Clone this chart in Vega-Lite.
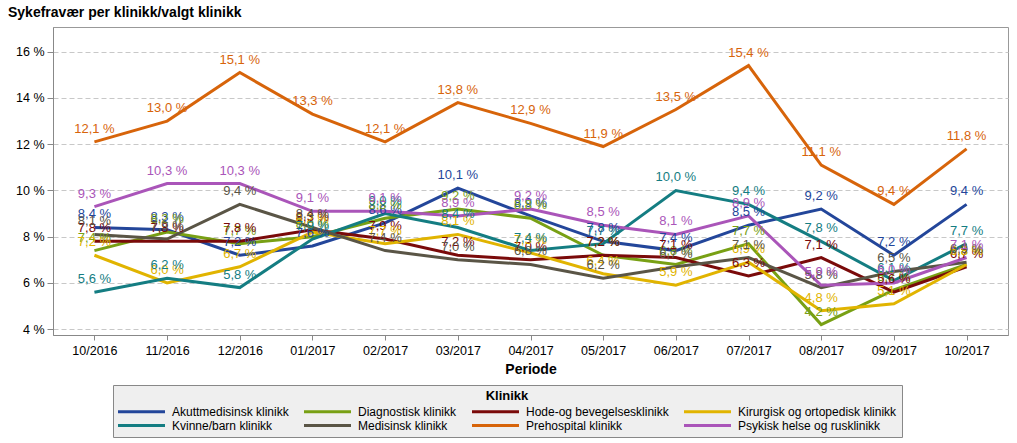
{
  "$schema": "https://vega.github.io/schema/vega-lite/v6.json",
  "width": 955,
  "height": 308,
  "autosize": {"type": "none"},
  "padding": {"left": 53, "top": 27, "right": 9, "bottom": 108},
  "background": "white",
  "title": {"text": "Sykefravær per klinikk/valgt klinikk", "anchor": "start", "frame": "group", "dx": -45, "offset": 7, "fontSize": 14, "font": "Liberation Sans", "fontWeight": "bold", "color": "#000"},
  "data": {"values": [
    {"Periode": "10/2016", "Klinikk": "Akuttmedisinsk klinikk", "Verdi": 8.4},
    {"Periode": "11/2016", "Klinikk": "Akuttmedisinsk klinikk", "Verdi": 8.3},
    {"Periode": "12/2016", "Klinikk": "Akuttmedisinsk klinikk", "Verdi": 7.2},
    {"Periode": "01/2017", "Klinikk": "Akuttmedisinsk klinikk", "Verdi": 7.6},
    {"Periode": "02/2017", "Klinikk": "Akuttmedisinsk klinikk", "Verdi": 8.6},
    {"Periode": "03/2017", "Klinikk": "Akuttmedisinsk klinikk", "Verdi": 10.1},
    {"Periode": "04/2017", "Klinikk": "Akuttmedisinsk klinikk", "Verdi": 8.9},
    {"Periode": "05/2017", "Klinikk": "Akuttmedisinsk klinikk", "Verdi": 7.8},
    {"Periode": "06/2017", "Klinikk": "Akuttmedisinsk klinikk", "Verdi": 7.4},
    {"Periode": "07/2017", "Klinikk": "Akuttmedisinsk klinikk", "Verdi": 8.5},
    {"Periode": "08/2017", "Klinikk": "Akuttmedisinsk klinikk", "Verdi": 9.2},
    {"Periode": "09/2017", "Klinikk": "Akuttmedisinsk klinikk", "Verdi": 7.2},
    {"Periode": "10/2017", "Klinikk": "Akuttmedisinsk klinikk", "Verdi": 9.4},
    {"Periode": "10/2016", "Klinikk": "Diagnostisk klinikk", "Verdi": 7.4},
    {"Periode": "11/2016", "Klinikk": "Diagnostisk klinikk", "Verdi": 8.2},
    {"Periode": "12/2016", "Klinikk": "Diagnostisk klinikk", "Verdi": 7.7},
    {"Periode": "01/2017", "Klinikk": "Diagnostisk klinikk", "Verdi": 8.0},
    {"Periode": "02/2017", "Klinikk": "Diagnostisk klinikk", "Verdi": 8.8},
    {"Periode": "03/2017", "Klinikk": "Diagnostisk klinikk", "Verdi": 9.2},
    {"Periode": "04/2017", "Klinikk": "Diagnostisk klinikk", "Verdi": 8.8},
    {"Periode": "05/2017", "Klinikk": "Diagnostisk klinikk", "Verdi": 7.2},
    {"Periode": "06/2017", "Klinikk": "Diagnostisk klinikk", "Verdi": 6.8},
    {"Periode": "07/2017", "Klinikk": "Diagnostisk klinikk", "Verdi": 7.7},
    {"Periode": "08/2017", "Klinikk": "Diagnostisk klinikk", "Verdi": 4.2},
    {"Periode": "09/2017", "Klinikk": "Diagnostisk klinikk", "Verdi": 5.7},
    {"Periode": "10/2017", "Klinikk": "Diagnostisk klinikk", "Verdi": 6.8},
    {"Periode": "10/2016", "Klinikk": "Hode-og bevegelsesklinikk", "Verdi": 7.8},
    {"Periode": "11/2016", "Klinikk": "Hode-og bevegelsesklinikk", "Verdi": 7.8},
    {"Periode": "12/2016", "Klinikk": "Hode-og bevegelsesklinikk", "Verdi": 7.8},
    {"Periode": "01/2017", "Klinikk": "Hode-og bevegelsesklinikk", "Verdi": 8.3},
    {"Periode": "02/2017", "Klinikk": "Hode-og bevegelsesklinikk", "Verdi": 7.9},
    {"Periode": "03/2017", "Klinikk": "Hode-og bevegelsesklinikk", "Verdi": 7.2},
    {"Periode": "04/2017", "Klinikk": "Hode-og bevegelsesklinikk", "Verdi": 7.0},
    {"Periode": "05/2017", "Klinikk": "Hode-og bevegelsesklinikk", "Verdi": 7.2},
    {"Periode": "06/2017", "Klinikk": "Hode-og bevegelsesklinikk", "Verdi": 7.1},
    {"Periode": "07/2017", "Klinikk": "Hode-og bevegelsesklinikk", "Verdi": 6.3},
    {"Periode": "08/2017", "Klinikk": "Hode-og bevegelsesklinikk", "Verdi": 7.1},
    {"Periode": "09/2017", "Klinikk": "Hode-og bevegelsesklinikk", "Verdi": 5.6},
    {"Periode": "10/2017", "Klinikk": "Hode-og bevegelsesklinikk", "Verdi": 6.7},
    {"Periode": "10/2016", "Klinikk": "Kirurgisk og ortopedisk klinikk", "Verdi": 7.2},
    {"Periode": "11/2016", "Klinikk": "Kirurgisk og ortopedisk klinikk", "Verdi": 6.0},
    {"Periode": "12/2016", "Klinikk": "Kirurgisk og ortopedisk klinikk", "Verdi": 6.7},
    {"Periode": "01/2017", "Klinikk": "Kirurgisk og ortopedisk klinikk", "Verdi": 8.2},
    {"Periode": "02/2017", "Klinikk": "Kirurgisk og ortopedisk klinikk", "Verdi": 7.7},
    {"Periode": "03/2017", "Klinikk": "Kirurgisk og ortopedisk klinikk", "Verdi": 8.1},
    {"Periode": "04/2017", "Klinikk": "Kirurgisk og ortopedisk klinikk", "Verdi": 7.3},
    {"Periode": "05/2017", "Klinikk": "Kirurgisk og ortopedisk klinikk", "Verdi": 6.4},
    {"Periode": "06/2017", "Klinikk": "Kirurgisk og ortopedisk klinikk", "Verdi": 5.9},
    {"Periode": "07/2017", "Klinikk": "Kirurgisk og ortopedisk klinikk", "Verdi": 6.9},
    {"Periode": "08/2017", "Klinikk": "Kirurgisk og ortopedisk klinikk", "Verdi": 4.8},
    {"Periode": "09/2017", "Klinikk": "Kirurgisk og ortopedisk klinikk", "Verdi": 5.1},
    {"Periode": "10/2017", "Klinikk": "Kirurgisk og ortopedisk klinikk", "Verdi": 6.8},
    {"Periode": "10/2016", "Klinikk": "Kvinne/barn klinikk", "Verdi": 5.6},
    {"Periode": "11/2016", "Klinikk": "Kvinne/barn klinikk", "Verdi": 6.2},
    {"Periode": "12/2016", "Klinikk": "Kvinne/barn klinikk", "Verdi": 5.8},
    {"Periode": "01/2017", "Klinikk": "Kvinne/barn klinikk", "Verdi": 7.9},
    {"Periode": "02/2017", "Klinikk": "Kvinne/barn klinikk", "Verdi": 9.0},
    {"Periode": "03/2017", "Klinikk": "Kvinne/barn klinikk", "Verdi": 8.4},
    {"Periode": "04/2017", "Klinikk": "Kvinne/barn klinikk", "Verdi": 7.4},
    {"Periode": "05/2017", "Klinikk": "Kvinne/barn klinikk", "Verdi": 7.7},
    {"Periode": "06/2017", "Klinikk": "Kvinne/barn klinikk", "Verdi": 10.0},
    {"Periode": "07/2017", "Klinikk": "Kvinne/barn klinikk", "Verdi": 9.4},
    {"Periode": "08/2017", "Klinikk": "Kvinne/barn klinikk", "Verdi": 7.8},
    {"Periode": "09/2017", "Klinikk": "Kvinne/barn klinikk", "Verdi": 6.1},
    {"Periode": "10/2017", "Klinikk": "Kvinne/barn klinikk", "Verdi": 7.7},
    {"Periode": "10/2016", "Klinikk": "Medisinsk klinikk", "Verdi": 8.1},
    {"Periode": "11/2016", "Klinikk": "Medisinsk klinikk", "Verdi": 7.9},
    {"Periode": "12/2016", "Klinikk": "Medisinsk klinikk", "Verdi": 9.4},
    {"Periode": "01/2017", "Klinikk": "Medisinsk klinikk", "Verdi": 8.4},
    {"Periode": "02/2017", "Klinikk": "Medisinsk klinikk", "Verdi": 7.4},
    {"Periode": "03/2017", "Klinikk": "Medisinsk klinikk", "Verdi": 7.0},
    {"Periode": "04/2017", "Klinikk": "Medisinsk klinikk", "Verdi": 6.8},
    {"Periode": "05/2017", "Klinikk": "Medisinsk klinikk", "Verdi": 6.2},
    {"Periode": "06/2017", "Klinikk": "Medisinsk klinikk", "Verdi": 6.7},
    {"Periode": "07/2017", "Klinikk": "Medisinsk klinikk", "Verdi": 7.1},
    {"Periode": "08/2017", "Klinikk": "Medisinsk klinikk", "Verdi": 5.8},
    {"Periode": "09/2017", "Klinikk": "Medisinsk klinikk", "Verdi": 6.5},
    {"Periode": "10/2017", "Klinikk": "Medisinsk klinikk", "Verdi": 6.9},
    {"Periode": "10/2016", "Klinikk": "Prehospital klinikk", "Verdi": 12.1},
    {"Periode": "11/2016", "Klinikk": "Prehospital klinikk", "Verdi": 13.0},
    {"Periode": "12/2016", "Klinikk": "Prehospital klinikk", "Verdi": 15.1},
    {"Periode": "01/2017", "Klinikk": "Prehospital klinikk", "Verdi": 13.3},
    {"Periode": "02/2017", "Klinikk": "Prehospital klinikk", "Verdi": 12.1},
    {"Periode": "03/2017", "Klinikk": "Prehospital klinikk", "Verdi": 13.8},
    {"Periode": "04/2017", "Klinikk": "Prehospital klinikk", "Verdi": 12.9},
    {"Periode": "05/2017", "Klinikk": "Prehospital klinikk", "Verdi": 11.9},
    {"Periode": "06/2017", "Klinikk": "Prehospital klinikk", "Verdi": 13.5},
    {"Periode": "07/2017", "Klinikk": "Prehospital klinikk", "Verdi": 15.4},
    {"Periode": "08/2017", "Klinikk": "Prehospital klinikk", "Verdi": 11.1},
    {"Periode": "09/2017", "Klinikk": "Prehospital klinikk", "Verdi": 9.4},
    {"Periode": "10/2017", "Klinikk": "Prehospital klinikk", "Verdi": 11.8},
    {"Periode": "10/2016", "Klinikk": "Psykisk helse og rusklinikk", "Verdi": 9.3},
    {"Periode": "11/2016", "Klinikk": "Psykisk helse og rusklinikk", "Verdi": 10.3},
    {"Periode": "12/2016", "Klinikk": "Psykisk helse og rusklinikk", "Verdi": 10.3},
    {"Periode": "01/2017", "Klinikk": "Psykisk helse og rusklinikk", "Verdi": 9.1},
    {"Periode": "02/2017", "Klinikk": "Psykisk helse og rusklinikk", "Verdi": 9.1},
    {"Periode": "03/2017", "Klinikk": "Psykisk helse og rusklinikk", "Verdi": 8.9},
    {"Periode": "04/2017", "Klinikk": "Psykisk helse og rusklinikk", "Verdi": 9.2},
    {"Periode": "05/2017", "Klinikk": "Psykisk helse og rusklinikk", "Verdi": 8.5},
    {"Periode": "06/2017", "Klinikk": "Psykisk helse og rusklinikk", "Verdi": 8.1},
    {"Periode": "07/2017", "Klinikk": "Psykisk helse og rusklinikk", "Verdi": 8.9},
    {"Periode": "08/2017", "Klinikk": "Psykisk helse og rusklinikk", "Verdi": 5.9},
    {"Periode": "09/2017", "Klinikk": "Psykisk helse og rusklinikk", "Verdi": 6.0},
    {"Periode": "10/2017", "Klinikk": "Psykisk helse og rusklinikk", "Verdi": 7.1}
  ]},
  "transform": [{"calculate": "replace(format(datum.Verdi, '.1f'), '.', ',') + ' %'", "as": "Etikett"}],
  "encoding": {
    "x": {
      "field": "Periode", "type": "ordinal",
      "sort": ["10/2016","11/2016","12/2016","01/2017","02/2017","03/2017","04/2017","05/2017","06/2017","07/2017","08/2017","09/2017","10/2017"],
      "scale": {"type": "point", "padding": 0.57},
      "axis": {"title": "Periode", "labelAngle": 0, "titleFontSize": 14, "titleFontWeight": "bold", "titleFont": "Liberation Sans", "titleColor": "#000", "labelFont": "Liberation Sans", "labelFontSize": 12.5, "labelColor": "#000", "domainColor": "#888", "tickColor": "#888", "tickSize": 5, "grid": false, "titlePadding": 6, "labelPadding": 4}
    },
    "y": {
      "field": "Verdi", "type": "quantitative",
      "scale": {"domain": [3.75, 17.07], "nice": false, "zero": false},
      "axis": {"values": [4, 6, 8, 10, 12, 14, 16], "labelExpr": "datum.value + ' %'", "title": null, "grid": true, "gridDash": [5, 3], "gridColor": "#c8c8c8", "domainColor": "#888", "tickColor": "#888", "tickSize": 6, "labelFontSize": 12.5, "labelFont": "Liberation Sans", "labelColor": "#000", "labelPadding": 3}
    },
    "color": {
      "field": "Klinikk", "type": "nominal",
      "scale": {
        "domain": ["Akuttmedisinsk klinikk", "Diagnostisk klinikk", "Hode-og bevegelsesklinikk", "Kirurgisk og ortopedisk klinikk", "Kvinne/barn klinikk", "Medisinsk klinikk", "Prehospital klinikk", "Psykisk helse og rusklinikk"],
        "range": ["#23469A", "#78A014", "#7A0A0A", "#E1B400", "#147D82", "#5A5546", "#D7640A", "#AA55B9"]
      },
      "legend": {
        "title": "Klinikk", "orient": "none", "legendX": 60, "legendY": 358, "direction": "horizontal", "columns": 4, "gridAlign": "each",
        "symbolType": "M-4,0H4", "symbolSize": 138, "symbolStrokeWidth": 3, "symbolOffset": 16,
        "titleAnchor": "middle", "titleFontSize": 13, "titleFont": "Liberation Sans", "titleFontWeight": "bold", "titleColor": "#000", "titlePadding": 1,
        "labelFont": "Liberation Sans", "labelFontSize": 12, "labelColor": "#000", "labelLimit": 300, "labelOffset": 23,
        "fillColor": "#efefef", "strokeColor": "#888", "padding": 5, "columnPadding": 9, "rowPadding": 0
      }
    }
  },
  "layer": [
    {"mark": {"type": "line", "strokeWidth": 3}},
    {"mark": {"type": "text", "dy": -13, "fontSize": 13, "font": "Liberation Sans"}, "encoding": {"text": {"field": "Etikett"}}}
  ],
  "config": {"view": {"stroke": "#999"}}
}
